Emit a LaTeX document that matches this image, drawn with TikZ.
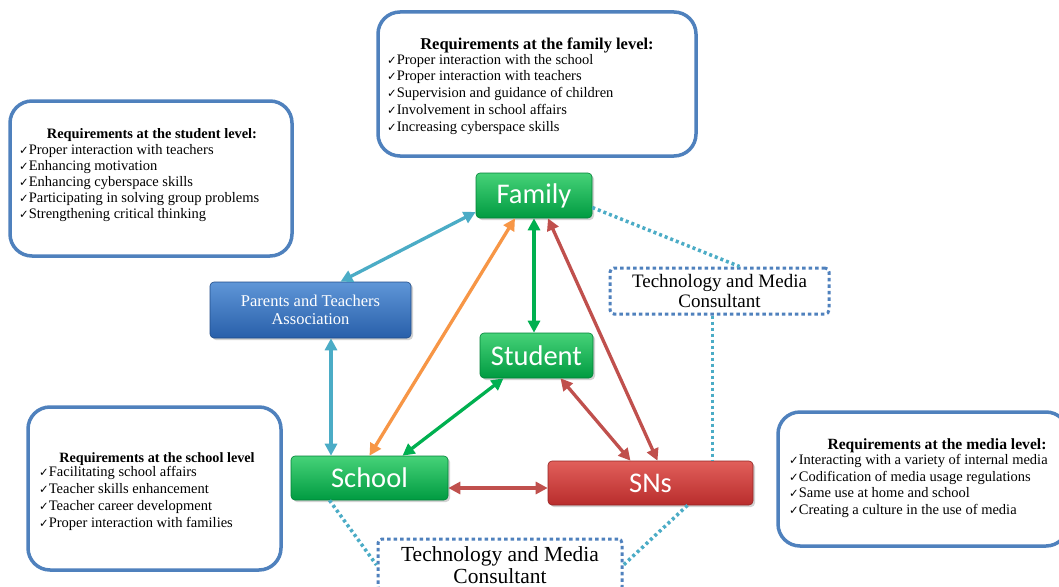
\documentclass[tikz,border=0pt]{standalone}
\usepackage{fontspec}
\setmainfont{Liberation Serif}
\newfontfamily\calibri{Carlito}
\newfontfamily\dejavu{DejaVu Sans}
\usetikzlibrary{arrows.meta,shadows,calc}
\definecolor{boxblue}{RGB}{79,129,189}
\definecolor{cyanline}{RGB}{75,172,198}
\definecolor{orangeline}{RGB}{247,150,70}
\definecolor{greenline}{RGB}{0,176,80}
\definecolor{redline}{RGB}{192,80,77}
\definecolor{gtop}{RGB}{70,210,120}
\definecolor{gbot}{RGB}{0,155,65}
\definecolor{gdraw}{RGB}{0,130,55}
\definecolor{btop}{RGB}{95,150,215}
\definecolor{bbot}{RGB}{40,95,170}
\definecolor{rtop}{RGB}{225,95,90}
\definecolor{rbot}{RGB}{185,45,45}
\newcommand\ckm{{\dejavu\fontsize{11.5}{11.5}\selectfont ✓}}
\tikzset{
  reqbox/.style={draw=boxblue, line width=3.5pt, rounded corners=22pt, fill=white},
  reqtitle/.style={font=\fontsize{16}{18}\selectfont\bfseries, inner sep=0pt, anchor=base},
  reqitems/.style={font=\fontsize{14.5}{16.7}\selectfont, align=left, inner sep=0pt, anchor=north west},
  gnode/.style={rounded corners=4pt, top color=gtop, bottom color=gbot, draw=gdraw, line width=0.6pt,
     text=white, font=\calibri\fontsize{28.5}{30}\selectfont, inner sep=0pt,
     drop shadow={opacity=0.35, shadow xshift=2pt, shadow yshift=-2pt}},
  bnode/.style={gnode, top color=btop, bottom color=bbot, draw=bbot!80!black},
  rnode/.style={gnode, top color=rtop, bottom color=rbot, draw=rbot!80!black},
  consult/.style={draw=boxblue, line width=3pt, dash pattern=on 3.5pt off 3pt, rounded corners=4pt,
     fill=white, align=center, font=\fontsize{19}{20.5}\selectfont, inner sep=0pt},
  biarrow/.style={line width=3.3pt, {Triangle[length=12pt,width=12pt]}-{Triangle[length=12pt,width=12pt]}},
  dotline/.style={draw=cyanline, line width=3.5pt, dash pattern=on 3pt off 3pt}
}
\begin{document}
\begin{tikzpicture}[x=1pt,y=-1pt]
\clip (0,0) rectangle (1059,586);
\fill[white] (0,0) rectangle (1059,586);

% requirement boxes
\node[reqbox, minimum width=318pt, minimum height=144pt] (famBox) at (537,84) {};
\node[reqtitle, font=\fontsize{16.5}{18}\selectfont\bfseries] (famTitle) at (537,50) {Requirements at the family level:};
\node[reqitems] (famItems) at (387,54) {\ckm Proper interaction with the school\\\ckm Proper interaction with teachers\\\ckm Supervision and guidance of children\\\ckm Involvement in school affairs\\\ckm Increasing cyberspace skills};

\node[reqbox, minimum width=282pt, minimum height=155pt] (stuBox) at (151,178.5) {};
\node[reqtitle, font=\fontsize{14.4}{16}\selectfont\bfseries] (stuTitle) at (152,138) {Requirements at the student level:};
\node[reqitems, font=\fontsize{14.5}{16}\selectfont] (stuItems) at (19,144) {\ckm Proper interaction with teachers\\\ckm Enhancing motivation\\\ckm Enhancing cyberspace skills\\\ckm Participating in solving group problems\\\ckm Strengthening critical thinking};

\node[reqbox, minimum width=253pt, minimum height=163pt] (schBox) at (154.5,488.5) {};
\node[reqtitle, font=\fontsize{14.2}{16}\selectfont\bfseries] (schTitle) at (157,462) {Requirements at the school level};
\node[reqitems, font=\fontsize{14.5}{17}\selectfont] (schItems) at (39,466) {\ckm Facilitating school affairs\\\ckm Teacher skills enhancement\\\ckm Teacher career development\\\ckm Proper interaction with families};

\node[reqbox, minimum width=290pt, minimum height=134pt] (medBox) at (923,479) {};
\node[reqtitle, font=\fontsize{15.6}{17}\selectfont\bfseries] (medTitle) at (937,449) {Requirements at the media level:};
\node[reqitems] (medItems) at (789,454) {\ckm Interacting with a variety of internal media\\\ckm Codification of media usage regulations\\\ckm Same use at home and school\\\ckm Creating a culture in the use of media};

% main nodes
\node[gnode, minimum width=116pt, minimum height=45pt] (family) at (534,195.5) {Family};
\node[bnode, minimum width=201pt, minimum height=56pt, align=center, font=\fontsize{16.5}{18}\selectfont] (pta) at (310.5,310) {Parents and Teachers\\Association};
\node[gnode, minimum width=113pt, minimum height=45pt] (student) at (536.5,355.5) {Student};
\node[gnode, minimum width=157pt, minimum height=44pt] (school) at (369.5,478) {School};
\node[rnode, minimum width=205pt, minimum height=44pt] (sns) at (650.5,483) {SNs};

\node[consult, minimum width=219pt, minimum height=46pt] (tech1) at (719.5,291) {Technology and Media\\Consultant};
\node[consult, minimum width=244pt, minimum height=52pt, font=\fontsize{21.5}{21.5}\selectfont] (tech2) at (500,565) {Technology and Media\\Consultant};

% dotted links
\draw[dotline] ([yshift=-12pt]family.east) -- ([xshift=20pt]tech1.north);
\draw[dotline] ([xshift=-7pt]tech1.south) -- ([xshift=62pt]sns.north);
\draw[dotline] ([xshift=-40pt]school.south) -- (tech2.west);
\draw[dotline] ([xshift=37pt]sns.south) -- (tech2.east);

% arrows
\draw[biarrow, cyanline] ([yshift=-16.5pt]family.west) -- ([xshift=30pt]pta.north);
\draw[biarrow, cyanline] ([xshift=20.5pt]pta.south) -- ([xshift=-38.5pt]school.north);
\draw[biarrow, orangeline] ([xshift=-19pt]family.south) -- (school.north);
\draw[biarrow, greenline] (family.south) -- (family.south |- student.north);
\draw[biarrow, redline] ([xshift=14pt]family.south) -- ([xshift=7pt]sns.north);
\draw[biarrow, greenline] ([xshift=-33pt]student.south) -- ([xshift=33pt]school.north);
\draw[biarrow, redline] ([xshift=24pt]student.south) -- ([xshift=-20pt]sns.north);
\draw[biarrow, redline] ([yshift=-10pt]school.east) -- ([yshift=-5pt]sns.west);
\end{tikzpicture}
\end{document}
